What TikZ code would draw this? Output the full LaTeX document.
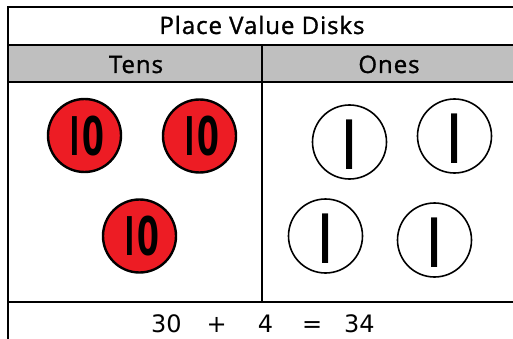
\documentclass[tikz,border=0pt]{standalone}
\usepackage{fontspec}
\usepackage{graphicx}
\newfontfamily\osans[LetterSpace=4,FakeBold=1.2]{Open Sans}
\newfontfamily\dgt{Open Sans}
\newfontfamily\dvsans{DejaVu Sans}
\definecolor{hdrgray}{RGB}{191,191,191}
\definecolor{diskred}{RGB}{237,28,36}
\tikzset{
  rule/.style={line width=2pt, draw=black},
  tendisk/.style={circle, draw=black, line width=2.4pt, fill=diskred, minimum size=73pt, inner sep=0pt},
  onedisk/.style={circle, draw=black, line width=1.6pt, fill=white, minimum size=74pt, inner sep=0pt},
  heading/.style={font=\osans\fontsize{24}{24}\selectfont, anchor=base, inner sep=0pt},
  tentext/.style={font=\dgt\bfseries\fontsize{54.5}{54.5}\selectfont, inner sep=0pt, anchor=base west},
  onetext/.style={font=\dgt\bfseries\fontsize{69.5}{69.5}\selectfont, inner sep=0pt, anchor=base west},
  eqtext/.style={font=\dvsans\fontsize{24}{24}\selectfont, anchor=base, inner sep=0pt},
}
\newcommand\TenDisk[3]{%
  \node[tendisk] (#1) at (#2,#3) {};
  \begin{scope}
    \clip (#2-12.4,#3-28) rectangle (#2+24,#3+28);
    \node[tentext] (#1-label) at (#2-23.6,#3+19.5) {\scalebox{0.7}[1]{10}};
  \end{scope}}
\newcommand\OneDisk[3]{%
  \node[onedisk] (#1) at (#2,#3) {};
  \begin{scope}
    \clip (#2-2.9,#3-30) rectangle (#2+10,#3+30);
    \node[onetext] (#1-label) at (#2-17.2,#3+27) {\scalebox{0.7}[1]{1}};
  \end{scope}}
\begin{document}
\begin{tikzpicture}[x=1pt,y=-1pt]
\useasboundingbox (0,0) rectangle (513,339);
% table
\fill[hdrgray] (7.5,45.5) rectangle (516,82.5);
\draw[rule] (516,7.5) -- (7.5,7.5) -- (7.5,342);
\draw[rule] (7.5,45.5) -- (516,45.5);
\draw[rule] (7.5,82.5) -- (516,82.5);
\draw[rule] (7.5,302) -- (516,302);
\draw[rule] (262,45.5) -- (262,302);
% headings
\node[heading] (title) at (262,34) {Place Value Disks};
\node[heading] (tens) at (136,73) {Tens};
\node[heading] (ones) at (389,73) {Ones};
% tens disks
\TenDisk{ta}{84.5}{135.5}
\TenDisk{tb}{199.5}{136}
\TenDisk{tc}{139.5}{236}
% ones disks
\OneDisk{oa}{349.5}{142}
\OneDisk{ob}{454.5}{136}
\OneDisk{oc}{325.5}{236}
\OneDisk{od}{434.5}{240}
% equation
\node[eqtext] (eq) at (263,332) {30\hspace{25pt}+\hspace{31pt}4\hspace{29pt}=\hspace{22pt}34};
\end{tikzpicture}
\end{document}
